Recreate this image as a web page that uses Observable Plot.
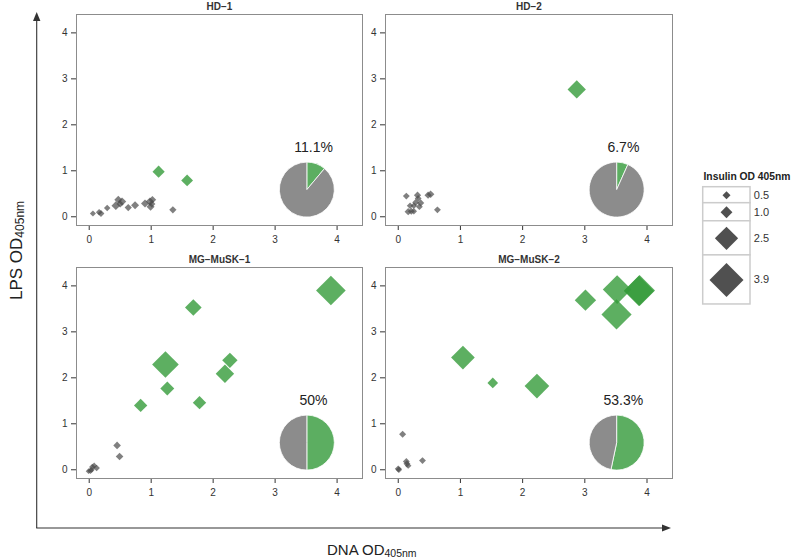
<!DOCTYPE html>
<html>
<head>
<meta charset="utf-8">
<script src="https://cdn.jsdelivr.net/npm/d3@7"></script>
<script src="https://cdn.jsdelivr.net/npm/@observablehq/plot@0.6"></script>
<style>
  html, body { margin: 0; padding: 0; background: #fff; }
  #wrap { position: relative; width: 800px; height: 558px; overflow: hidden; background: #fff;
          font-family: "Liberation Sans", Arial, sans-serif; }
  .abs { position: absolute; }
</style>
</head>
<body>
<div id="wrap"></div>
<script>
// ---------------- data ----------------
const panelNames = ["HD−1", "HD−2", "MG−MuSK−1", "MG−MuSK−2"];
const positivePct = [11.1, 6.7, 50, 53.3];
const pctLabels = ["11.1%", "6.7%", "50%", "53.3%"];
const xTicks = [0, 1, 2, 3, 4];
const yTicks = [0, 1, 2, 3, 4];
const legendValues = [0.5, 1.0, 2.5, 3.9];
const legendLabels = ["0.5", "1.0", "2.5", "3.9"];

// one entry per sample: panel index, DNA OD, LPS OD, insulin OD, reactive (1 = green)
const pointPanel = [
  0,0,0,0,0,0,0,0,0,0,0,0,0,0,0,0,0,0,
  1,1,1,1,1,1,1,1,1,1,1,1,1,1,1,
  2,2,2,2,2,2,2,2,2,2,2,2,2,2,2,2,
  3,3,3,3,3,3,3,3,3,3,3,3,3,3,3
];
const pointDna = [
  0.06,0.16,0.19,0.29,0.43,0.47,0.53,0.50,0.63,0.74,0.90,0.98,1.02,0.99,1.01,1.35, 1.12,1.58,
  0.13,0.16,0.21,0.25,0.28,0.31,0.32,0.36,0.25,0.34,0.48,0.52,0.63,0.19, 2.87,
  0.45,0.49,0.02,0.05,0.08,0.12,0.04,-0.01, 1.68,3.90,1.23,2.27,2.19,1.26,0.83,1.78,
  0.07,0.00,0.01,0.13,0.14,0.16,0.39, 1.04,1.52,2.23,3.01,3.52,3.51,3.88,3.87
];
const pointLps = [
  0.07,0.10,0.07,0.19,0.24,0.37,0.33,0.28,0.20,0.25,0.29,0.33,0.37,0.22,0.28,0.15, 0.98,0.79,
  0.45,0.11,0.12,0.12,0.31,0.47,0.40,0.30,0.24,0.22,0.47,0.49,0.15,0.24, 2.77,
  0.53,0.29,-0.02,0.06,0.09,0.04,0.00,-0.03, 3.53,3.90,2.29,2.38,2.09,1.77,1.40,1.46,
  0.77,0.02,0.00,0.18,0.13,0.09,0.20, 2.44,1.89,1.82,3.69,3.92,3.38,3.90,3.89
];
const pointInsulin = [
  0.25,0.30,0.35,0.30,0.60,0.50,0.55,0.40,0.40,0.50,0.50,0.55,0.45,0.50,0.40,0.40, 1.05,1.00,
  0.35,0.40,0.35,0.30,0.35,0.40,0.35,0.40,0.30,0.35,0.40,0.45,0.35,0.30, 1.85,
  0.45,0.45,0.30,0.30,0.25,0.30,0.25,0.20, 1.63,3.33,2.94,1.46,1.86,1.28,1.20,1.20,
  0.37,0.35,0.30,0.35,0.35,0.30,0.35, 2.55,0.85,2.68,2.25,3.20,3.40,3.50,3.40
];
const pointReactive = [
  0,0,0,0,0,0,0,0,0,0,0,0,0,0,0,0,1,1,
  0,0,0,0,0,0,0,0,0,0,0,0,0,0,1,
  0,0,0,0,0,0,0,0,1,1,1,1,1,1,1,1,
  0,0,0,0,0,0,0,1,1,1,1,1,1,1,1
];

// ---------------- styling ----------------
const FONT = "'Liberation Sans', Arial, Helvetica, sans-serif";
const GREEN = "#349b3a", GRAY = "#4a4a4a";
const PIE_GREEN = "#5cae61", PIE_GRAY = "#8c8c8c";
const rOpts = { type: "linear", domain: [0.5, 3.9], range: [4, 17] };
const diamond = {
  draw(ctx, size) {
    const r = Math.sqrt(size / Math.PI);
    ctx.moveTo(0, -r); ctx.lineTo(r, 0); ctx.lineTo(0, r); ctx.lineTo(-r, 0); ctx.closePath();
  }
};

const points = pointPanel.map((p, i) => ({
  panel: p, dna: pointDna[i], lps: pointLps[i], ins: pointInsulin[i], reactive: pointReactive[i]
}));

// frame boxes of the four panels (pixels in the 800x558 page)
const frames = [
  { L: 76, R: 362, T: 14, B: 225 },
  { L: 385, R: 672, T: 14, B: 225 },
  { L: 76, R: 362, T: 267, B: 478 },
  { L: 385, R: 672, T: 267, B: 478 }
];
const mL = 32, mR = 6, mT = 16, mB = 24;
const PIE_X = 3.52, PIE_Y = 0.58, PIE_R = 27.5, LABEL_X = 3.62, LABEL_Y = 1.5;

const wrap = document.getElementById("wrap");

// decorations: big axes arrows and labels
const ns = "http://www.w3.org/2000/svg";
const deco = d3.create("svg").attr("class", "abs").attr("width", 800).attr("height", 558)
  .style("left", "0px").style("top", "0px").style("font-family", FONT);
deco.append("line").attr("x1", 36.7).attr("y1", 528).attr("x2", 36.7).attr("y2", 20)
  .attr("stroke", "#333").attr("stroke-width", 1.1);
deco.append("path").attr("d", "M36.7,12 L33,21 L40.4,21 Z").attr("fill", "#333");
deco.append("line").attr("x1", 36.2).attr("y1", 528).attr("x2", 663).attr("y2", 528)
  .attr("stroke", "#333").attr("stroke-width", 1.1);
deco.append("path").attr("d", "M671,528 L662,524.5 L662,531.5 Z").attr("fill", "#333");
const xl = deco.append("text").attr("x", 327).attr("y", 555).attr("fill", "#222").attr("font-size", 15);
xl.append("tspan").text("DNA OD");
xl.append("tspan").attr("font-size", 10.5).attr("dy", 1.5).text("405nm");
const yl = deco.append("text").attr("transform", "translate(21.5,300) rotate(-90)")
  .attr("fill", "#222").attr("font-size", 17);
yl.append("tspan").text("LPS OD");
yl.append("tspan").attr("font-size", 12).attr("dy", 2).text("405nm");
wrap.appendChild(deco.node());

// ---------------- panels ----------------
frames.forEach((f, k) => {
  const data = points.filter(d => d.panel === k);
  const gray = data.filter(d => !d.reactive);
  const green = data.filter(d => d.reactive);
  const pieMark = (index, scales) => {
    const g = d3.create("svg:g");
    const cx = scales.x(PIE_X), cy = scales.y(PIE_Y);
    const arcs = d3.pie().sort(null).value(d => d)([positivePct[k], 100 - positivePct[k]]);
    g.selectAll("path").data(arcs).join("path")
      .attr("transform", `translate(${cx},${cy})`)
      .attr("d", d3.arc().innerRadius(0).outerRadius(PIE_R))
      .attr("fill", (d, i) => i === 0 ? PIE_GREEN : PIE_GRAY)
      .attr("stroke", "white").attr("stroke-width", 0.8);
    return g.node();
  };
  const chart = Plot.plot({
    width: (f.R - f.L) + mL + mR,
    height: (f.B - f.T) + mT + mB,
    marginLeft: mL, marginRight: mR, marginTop: mT, marginBottom: mB,
    style: { fontFamily: FONT, fontSize: "10px", color: "#333", background: "transparent", overflow: "visible" },
    x: { domain: [-0.205, 4.41], ticks: xTicks, tickSize: 5, tickPadding: 5, label: null, tickFormat: d => String(d) },
    y: { domain: [-0.19, 4.40], ticks: yTicks, tickSize: 5, tickPadding: 4, label: null, tickFormat: d => String(d) },
    r: rOpts,
    marks: [
      Plot.dot(gray, { x: "dna", y: "lps", r: "ins", symbol: diamond, fill: GRAY, fillOpacity: 0.7, stroke: "none" }),
      Plot.dot(green, { x: "dna", y: "lps", r: "ins", symbol: diamond, fill: GREEN, fillOpacity: 0.8, stroke: "none" }),
      pieMark,
      Plot.text([pctLabels[k]], { x: () => LABEL_X, y: () => LABEL_Y, text: d => d, fontSize: 14, fill: "#222" }),
      Plot.frame({ stroke: "#8c8c8c", strokeWidth: 1 }),
      Plot.text([panelNames[k]], { frameAnchor: "top", dy: -5, lineAnchor: "bottom", text: d => d,
        fontWeight: "bold", fontSize: 10, fill: "#333" })
    ]
  });
  chart.classList.add("abs");
  chart.style.left = (f.L - mL) + "px";
  chart.style.top = (f.T - mT) + "px";
  wrap.appendChild(chart);
});

// ---------------- legend ----------------
const rScale = Plot.scale({ r: rOpts });
let yCursor = 26.7;
const legendRows = legendValues.map((v, i) => {
  const r = rScale.apply(v);
  const h = Math.max(16, 2.8 * r + 1.5);
  const row = { v, label: legendLabels[i], y0: yCursor, y1: yCursor + h, yc: yCursor + h / 2 };
  yCursor += h;
  return row;
});
const legend = Plot.plot({
  width: 110, height: 160, margin: 0,
  style: { fontFamily: FONT, fontSize: "11px", color: "#333", background: "transparent", overflow: "visible" },
  x: { type: "identity", axis: null },
  y: { type: "identity", axis: null },
  r: rOpts,
  marks: [
    Plot.text(["Insulin OD 405nm"], { x: 13, y: 19.5, text: d => d, textAnchor: "start", lineAnchor: "bottom",
      fontWeight: "bold", fontSize: 10.3, fill: "#222" }),
    Plot.rect(legendRows, { x1: 12.7, x2: 60, y1: "y0", y2: "y1", fill: "white", stroke: "#cccccc", strokeWidth: 1.5 }),
    Plot.dot(legendRows, { x: 36, y: "yc", r: "v", symbol: diamond, fill: "#505050", stroke: "none" }),
    Plot.text(legendRows, { x: 63.3, y: "yc", text: "label", textAnchor: "start", fontSize: 11, fill: "#333" })
  ]
});
legend.classList.add("abs");
legend.style.left = "690px";
legend.style.top = "160px";
wrap.appendChild(legend);
</script>
</body>
</html>
